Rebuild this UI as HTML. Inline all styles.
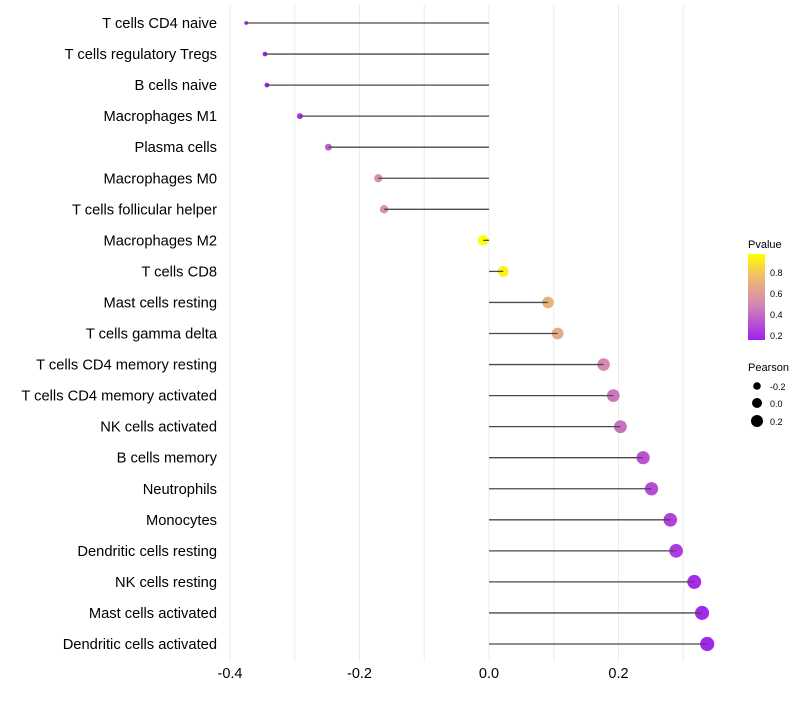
<!DOCTYPE html>
<html><head><meta charset="utf-8"><style>
body{margin:0;background:#fff;font-family:"Liberation Sans",sans-serif;}
</style></head><body>
<svg id="chart" width="800" height="700" xmlns="http://www.w3.org/2000/svg">
<defs><linearGradient id="pg" x1="0" y1="1" x2="0" y2="0">
<stop offset="0" stop-color="#a020f0"/><stop offset="0.42" stop-color="#d48ab0"/><stop offset="0.7" stop-color="#edb47a"/><stop offset="1" stop-color="#ffff00"/></linearGradient></defs>
<g id="grid"></g><g id="segs"></g><g id="ylab"></g><g id="xlab"></g>
<g>
<text x="748" y="248" font-size="11" fill="#000">Pvalue</text>
<rect x="748" y="254" width="17" height="86" fill="url(#pg)"/>
<text x="770" y="276" font-size="9">0.8</text><text x="770" y="297" font-size="9">0.6</text>
<text x="770" y="318" font-size="9">0.4</text><text x="770" y="339" font-size="9">0.2</text>
</g>
<g>
<text x="748" y="371" font-size="11">Pearson</text>
<circle cx="757" cy="386" r="3.8"/><text x="770" y="390" font-size="9">-0.2</text>
<circle cx="757" cy="403" r="5"/><text x="770" y="407" font-size="9">0.0</text>
<circle cx="757" cy="421" r="6"/><text x="770" y="425" font-size="9">0.2</text>
</g>
</svg>
<script>
const categories=["T cells CD4 naive","T cells regulatory  Tregs","B cells naive","Macrophages M1","Plasma cells","Macrophages M0","T cells follicular helper","Macrophages M2","T cells CD8","Mast cells resting","T cells gamma delta","T cells CD4 memory resting","T cells CD4 memory activated","NK cells activated","B cells memory","Neutrophils","Monocytes","Dendritic cells resting","NK cells resting","Mast cells activated","Dendritic cells activated"];
const pearson=[-0.375,-0.346,-0.343,-0.292,-0.248,-0.171,-0.162,-0.009,0.022,0.091,0.106,0.177,0.192,0.203,0.238,0.251,0.280,0.289,0.317,0.329,0.337];
const pvalue=[0.12,0.15,0.15,0.22,0.36,0.52,0.54,0.97,0.93,0.72,0.68,0.5,0.44,0.42,0.32,0.3,0.26,0.24,0.19,0.18,0.17];
const xticks=[-0.4,-0.2,0.0,0.2];
const gridVals=[-0.4,-0.3,-0.2,-0.1,0.0,0.1,0.2,0.3];
const NS="http://www.w3.org/2000/svg";
const xs=v=>489+v*647.5;
const ys=i=>23+i*31.05;
function col(p){const st=[[0.15,[160,32,240]],[0.5,[212,138,176]],[0.73,[237,180,122]],[0.97,[255,255,0]]];
 p=Math.max(0.15,Math.min(0.97,p));for(let k=0;k<st.length-1;k++){if(p<=st[k+1][0]){const t=(p-st[k][0])/(st[k+1][0]-st[k][0]);const c=st[k][1].map((a,j)=>Math.round(a+(st[k+1][1][j]-a)*t));return`rgb(${c})`;}}return"rgb(255,255,0)";}
const rad=v=>Math.sqrt(Math.max(2.5,28+65*v));
function mk(tag,at,parent){const e=document.createElementNS(NS,tag);for(const k in at)e.setAttribute(k,at[k]);document.getElementById(parent).appendChild(e);return e;}
gridVals.forEach(v=>{const l=mk("line",{x1:xs(v),x2:xs(v),y1:5,y2:662,stroke:"#ebebeb","stroke-width":1},"grid");

});
xticks.forEach(v=>{const t=mk("text",{x:xs(v),y:678,"text-anchor":"middle","font-size":14.5,fill:"#000"},"xlab");t.textContent=v.toFixed(1);

});
categories.forEach((c,i)=>{const y=ys(i);
const t=mk("text",{x:217,y:y+5,"text-anchor":"end","font-size":14.7,fill:"#000"},"ylab");t.textContent=c;


const d=mk("circle",{cx:xs(pearson[i]),cy:y,r:rad(pearson[i]),fill:col(pvalue[i])},"segs");


const l=mk("line",{x1:xs(0),x2:xs(pearson[i]),y1:y,y2:y,stroke:"#4a4a4a","stroke-width":1.3},"segs");

});
</script>
</body></html>
